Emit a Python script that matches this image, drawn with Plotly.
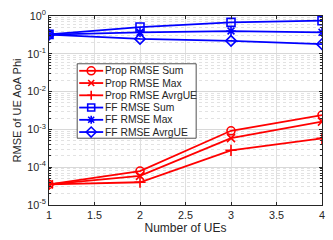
import plotly.graph_objects as go

num_ues = [1, 2, 3, 4]
prop_sum = [3.5e-5, 7.9e-5, 9.2e-4, 2.4e-3]
prop_max = [3.5e-5, 5.9e-5, 5.9e-4, 1.6e-3]
prop_avrg = [3.5e-5, 4.0e-5, 2.8e-4, 5.8e-4]
ff_sum = [0.326, 0.51, 0.68, 0.75]
ff_max = [0.32, 0.37, 0.40, 0.37]
ff_avrg = [0.32, 0.248, 0.22, 0.18]

series_names = ["Prop RMSE Sum", "Prop RMSE Max", "Prop RMSE AvrgUE",
                "FF RMSE Sum", "FF RMSE Max", "FF RMSE AvrgUE"]
series_values = [prop_sum, prop_max, prop_avrg, ff_sum, ff_max, ff_avrg]
series_colors = ["#ff0000", "#ff0000", "#ff0000", "#0000ff", "#0000ff", "#0000ff"]
series_symbols = ["circle-open", "x-thin-open", "cross-thin-open",
                  "square-open", "asterisk-open", "diamond-open"]

# figure geometry (pixels)
W, H = 333, 240
ML, MR, MT, MB = 49, 10, 8, 33
PW, PH = W - ML - MR, H - MT - MB

def px_to_paper_x(px):
    return (px - ML) / PW

def px_to_paper_y(py):
    return 1 - (py - MT) / PH

fig = go.Figure()
for name, vals, col, sym in zip(series_names, series_values, series_colors, series_symbols):
    fig.add_trace(go.Scatter(
        x=num_ues, y=vals, name=name, mode="lines+markers", showlegend=False,
        line=dict(color=col, width=1.8),
        marker=dict(symbol=sym, size=8, color=col, line=dict(color=col, width=1.6)),
    ))

# MATLAB-style legend box drawn with shapes/annotations
LEG_L, LEG_R, LEG_T, LEG_B = 77.3, 196.7, 58.3, 136.7
ROW0, ROWSTEP = 7.4, 12.9
shapes = [dict(type="rect", xref="paper", yref="paper",
               x0=px_to_paper_x(LEG_L), x1=px_to_paper_x(LEG_R),
               y0=px_to_paper_y(LEG_B), y1=px_to_paper_y(LEG_T),
               fillcolor="white", line=dict(color="#262626", width=0.8), layer="above")]
glyph_paths = [
    None,
    "M 11,-3 L 17,3 M 11,3 L 17,-3",
    "M 10,0 L 18,0 M 14,-4.5 L 14,4.5",
    None,
    "M 10,0 L 18,0 M 14,-4 L 14,4 M 11,-3 L 17,3 M 11,3 L 17,-3",
    "M 14,-5 L 19,0 L 14,5 L 9,0 Z",
]
annotations = []
xa = px_to_paper_x(LEG_L)
for i, (name, col) in enumerate(zip(series_names, series_colors)):
    ya = px_to_paper_y(LEG_T + ROW0 + ROWSTEP * i)
    base = dict(xref="paper", yref="paper", xsizemode="pixel", ysizemode="pixel",
                xanchor=xa, yanchor=ya, layer="above")
    shapes.append(dict(type="line", x0=2, x1=26, y0=0, y1=0,
                       line=dict(color=col, width=1.8), **base))
    if i == 0:
        shapes.append(dict(type="circle", x0=10, x1=18, y0=-4, y1=4,
                           fillcolor="rgba(0,0,0,0)", line=dict(color=col, width=1.6), **base))
    elif i == 3:
        shapes.append(dict(type="rect", x0=10.5, x1=17.5, y0=-3.5, y1=3.5,
                           fillcolor="rgba(0,0,0,0)", line=dict(color=col, width=1.6), **base))
    else:
        shapes.append(dict(type="path", path=glyph_paths[i],
                           fillcolor="rgba(0,0,0,0)", line=dict(color=col, width=1.6), **base))
    annotations.append(dict(text=name, xref="paper", yref="paper", x=xa, y=ya,
                            xanchor="left", yanchor="middle", xshift=26, showarrow=False,
                            font=dict(size=10.3, color="#262626")))

font = "Liberation Sans, Arial, sans-serif"
fig.update_layout(
    width=W, height=H,
    margin=dict(l=ML, r=MR, t=MT, b=MB),
    plot_bgcolor="white", paper_bgcolor="white",
    font=dict(family=font, size=10.8, color="#262626"),
    showlegend=False,
    shapes=shapes, annotations=annotations,
)
fig.update_xaxes(
    range=[1, 4], tickmode="array", tickvals=[1, 1.5, 2, 2.5, 3, 3.5, 4],
    ticktext=["1", "1.5", "2", "2.5", "3", "3.5", "4"],
    showgrid=True, gridcolor="#e0e0e0", gridwidth=0.6,
    showline=True, linecolor="#262626", linewidth=0.8, mirror="ticks",
    ticks="inside", ticklen=3, tickcolor="#262626",
    title=dict(text="Number of UEs", standoff=3, font=dict(size=12)),
    zeroline=False,
)
fig.update_yaxes(
    type="log", range=[-5, 0],
    tickmode="array", tickvals=[1e-5, 1e-4, 1e-3, 1e-2, 1e-1, 1],
    ticktext=["10<sup>-5</sup>", "10<sup>-4</sup>", "10<sup>-3</sup>", "10<sup>-2</sup>",
              "10<sup>-1</sup>", "10<sup>0</sup>"],
    showgrid=True, gridcolor="#d8d8d8", gridwidth=0.6,
    minor=dict(showgrid=True, gridcolor="#e2e2e2", griddash="dot", gridwidth=0.6,
               ticks="inside", ticklen=2, tickcolor="#262626",
               tickvals=[m * 10**e for e in range(-5, 0) for m in range(2, 10)]),
    showline=True, linecolor="#262626", linewidth=0.8, mirror="ticks",
    ticks="inside", ticklen=3, tickcolor="#262626",
    title=dict(text="RMSE of UE AoA Phi", standoff=3, font=dict(size=11)),
    zeroline=False,
)
fig.write_html("out.html", config={"displayModeBar": False},
               post_script="document.body.style.margin='0';")
